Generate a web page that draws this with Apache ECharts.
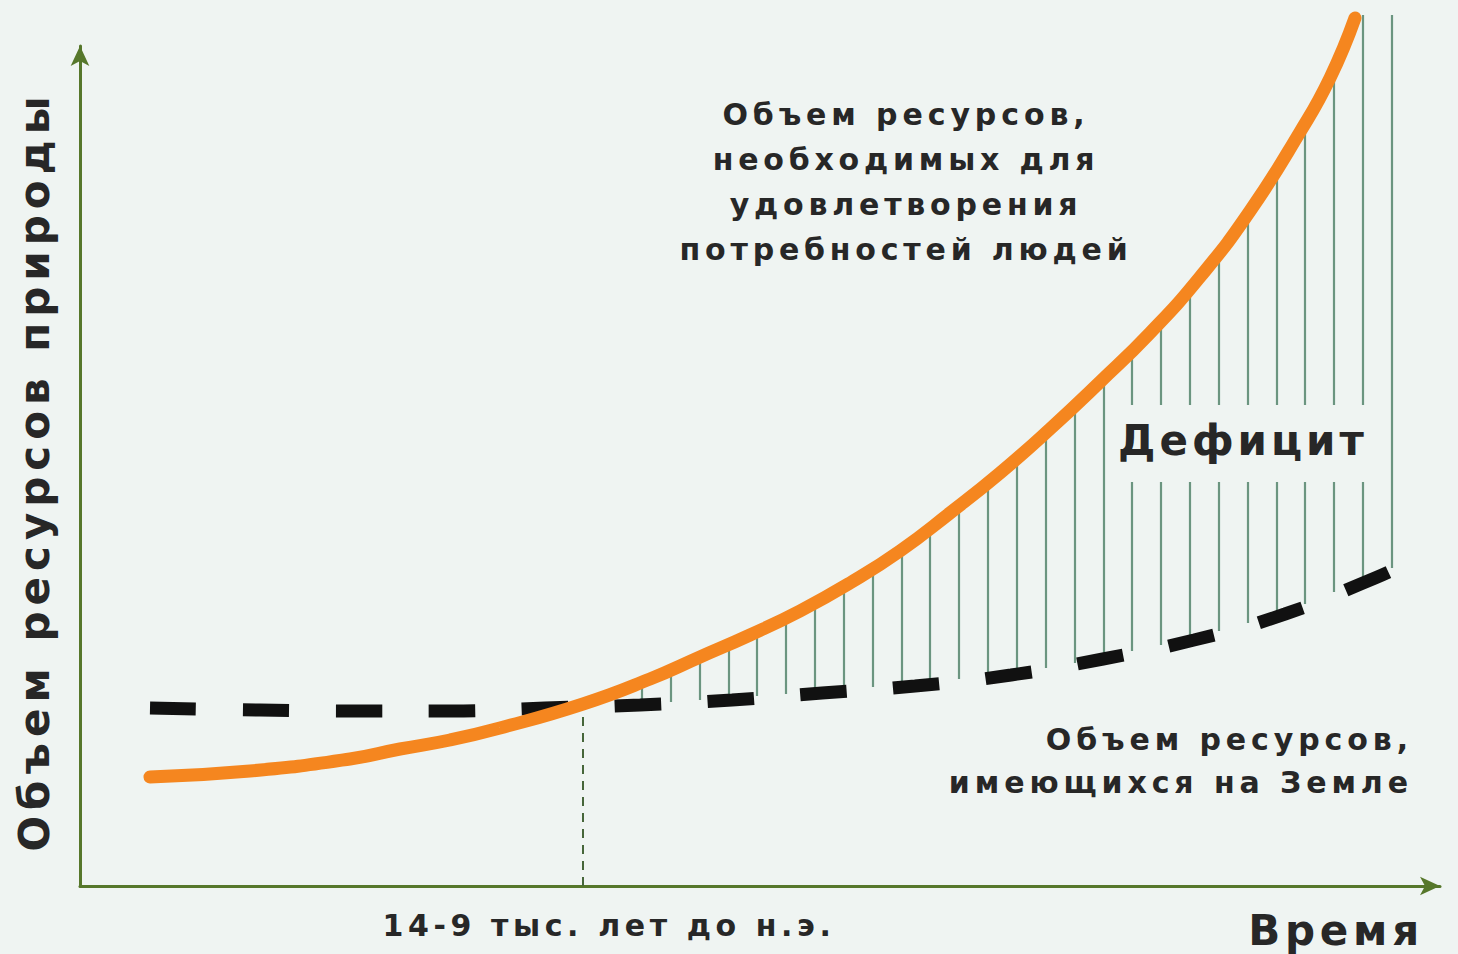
<!DOCTYPE html>
<html><head><meta charset="utf-8">
<script src="https://cdn.jsdelivr.net/npm/echarts@6/dist/echarts.min.js"></script>
<style>
html,body{margin:0;padding:0;background:#eff4f2;}
#c{width:1458px;height:954px;}
</style></head><body><div id="c"></div>
<script>
// Units: x = time (arbitrary), y = volume of natural resources (arbitrary)
const demandX = [70,170,270,320,370,420,503,570,620,670,720,770,820,870,920,970,1020,1070,1120,1170,1220,1250,1275];
const demandY = [109,115,127,137,146,158,182,207,229,251,275,303,335,373,413,457,504,553,609,675,754,808,868];

const supplyX = [70,180,280,370,465,560,652,742,835,931,1023,1114,1205,1295,1317];
const supplyY = [178,176,175,175,178,181,186,193,200,211,227,246,272,308,318];

// deficit hatching: x, top (demand), bottom (supply)
const hatchX   = [562,591,620,649,677,706,735,764,793,822,850,879,908,937,966,995,1024,1052,1081,1110,1139,1168,1197,1225,1254,1283,1312];
const hatchTop = [204,216,229,241,254,268,283,300,318,338,358,380,404,428,452,478,506,535,567,598,634,672,716,765,818,871,871];
const hatchBot = [183,184,186,188,190,192,194,197,199,201,204,207,210,214,218,223,229,235,241,248,255,263,272,282,294,306,318];

// crossing point (14-9 thousand years BC)
const crossX = [503,503];
const crossY = [0,182];

const labelTop = 'Объем ресурсов,\nнеобходимых для\nудовлетворения\nпотребностей людей';
const labelBottom = 'Объем ресурсов,\nимеющихся на Земле';
const labelCross = '14-9 тыс. лет до н.э.';
const labelDeficit = 'Дефицит';
const xName = 'Время';
const yName = 'Объем ресурсов природы';

const FONT = '"DejaVu Sans", Verdana, sans-serif';
const TXT = '#272727';
const BG = '#eff4f2';
const chart = echarts.init(document.getElementById('c'), null, {renderer:'svg'});

const axisCommon = {
  type:'value', min:0,
  axisLine:{show:true, onZero:false, symbol:['none','arrow'], symbolSize:[14,20],
    lineStyle:{color:'#56772b', width:3}},
  axisTick:{show:false}, axisLabel:{show:false}, splitLine:{show:false}
};

chart.setOption({
  backgroundColor:BG,
  animation:false,
  grid:{left:80, right:18, top:46, bottom:68, containLabel:false, outerBoundsMode:'none'},
  xAxis: Object.assign({}, axisCommon, {max:1360}),
  yAxis: Object.assign({}, axisCommon, {max:840,
    name:yName, nameLocation:'middle', nameRotate:90, nameGap:25,
    nameTextStyle:{fontFamily:FONT, fontWeight:'bold', fontSize:42, color:TXT, padding:[0,10,0,0]}}),
  graphic:[
    {type:'text', x:906, y:182, z:50, style:{text:labelTop, fontFamily:FONT, fontWeight:'bold', fontSize:30, lineHeight:45, fill:TXT, textAlign:'center', textVerticalAlign:'middle'}},
    {type:'text', x:1413, y:761, z:50, style:{text:labelBottom, fontFamily:FONT, fontWeight:'bold', fontSize:30, lineHeight:43, fill:TXT, textAlign:'right', textVerticalAlign:'middle'}},
    {type:'text', x:609, y:925, z:50, style:{text:labelCross, fontFamily:FONT, fontWeight:'bold', fontSize:30, fill:TXT, textAlign:'center', textVerticalAlign:'middle'}},
    {type:'text', x:1424, y:930, z:50, style:{text:xName, fontFamily:FONT, fontWeight:'bold', fontSize:42, fill:TXT, textAlign:'right', textVerticalAlign:'middle'}},
    {type:'rect', shape:{x:1112, y:405, width:262, height:77}, z:20, style:{fill:BG}},
    {type:'text', x:1118, y:440, z:50, style:{text:labelDeficit, fontFamily:FONT, fontWeight:'bold', fontSize:42, fill:TXT, textAlign:'left', textVerticalAlign:'middle'}}
  ],
  series:[
    {type:'custom', z:3, clip:false,
     renderItem:function(params, api){
       const p1 = api.coord([api.value(0), api.value(1)]);
       const p2 = api.coord([api.value(0), api.value(2)]);
       return {type:'line', shape:{x1:p1[0], y1:p1[1], x2:p2[0], y2:p2[1]}, style:{stroke:'#6b9580', lineWidth:2.2}};
     },
     data: hatchX.map((x,i)=>[x, hatchTop[i], hatchBot[i]])},
    {type:'line', z:4, data: crossX.map((x,i)=>[x, crossY[i]]), symbol:'none',
     lineStyle:{color:'#46663a', width:2, type:[9,7]}},
    {type:'line', z:6, clip:false, smooth:true, symbol:'none',
     data: supplyX.map((x,i)=>[x, supplyY[i]]),
     lineStyle:{color:'#111111', width:13, type:[46,47]}},
    {type:'line', z:8, clip:false, smooth:true, symbol:'none',
     data: demandX.map((x,i)=>[x, demandY[i]]),
     lineStyle:{color:'#f5861f', width:13, cap:'round'}}
  ]
});

const spacing = [
  [labelTop.split('\n'), 4.8],
  [labelBottom.split('\n'), 4.9],
  [[labelCross], 4.6],
  [[xName], 4.8],
  [[labelDeficit], 4],
  [[yName], 6]
];
function applySpacing(){
  document.querySelectorAll('#c text').forEach(t=>{
    const s = t.textContent;
    for (const [arr, px] of spacing){ if (arr.includes(s)) t.style.letterSpacing = px+'px'; }
  });
}
applySpacing();
chart.on('finished', applySpacing);
</script></body></html>
